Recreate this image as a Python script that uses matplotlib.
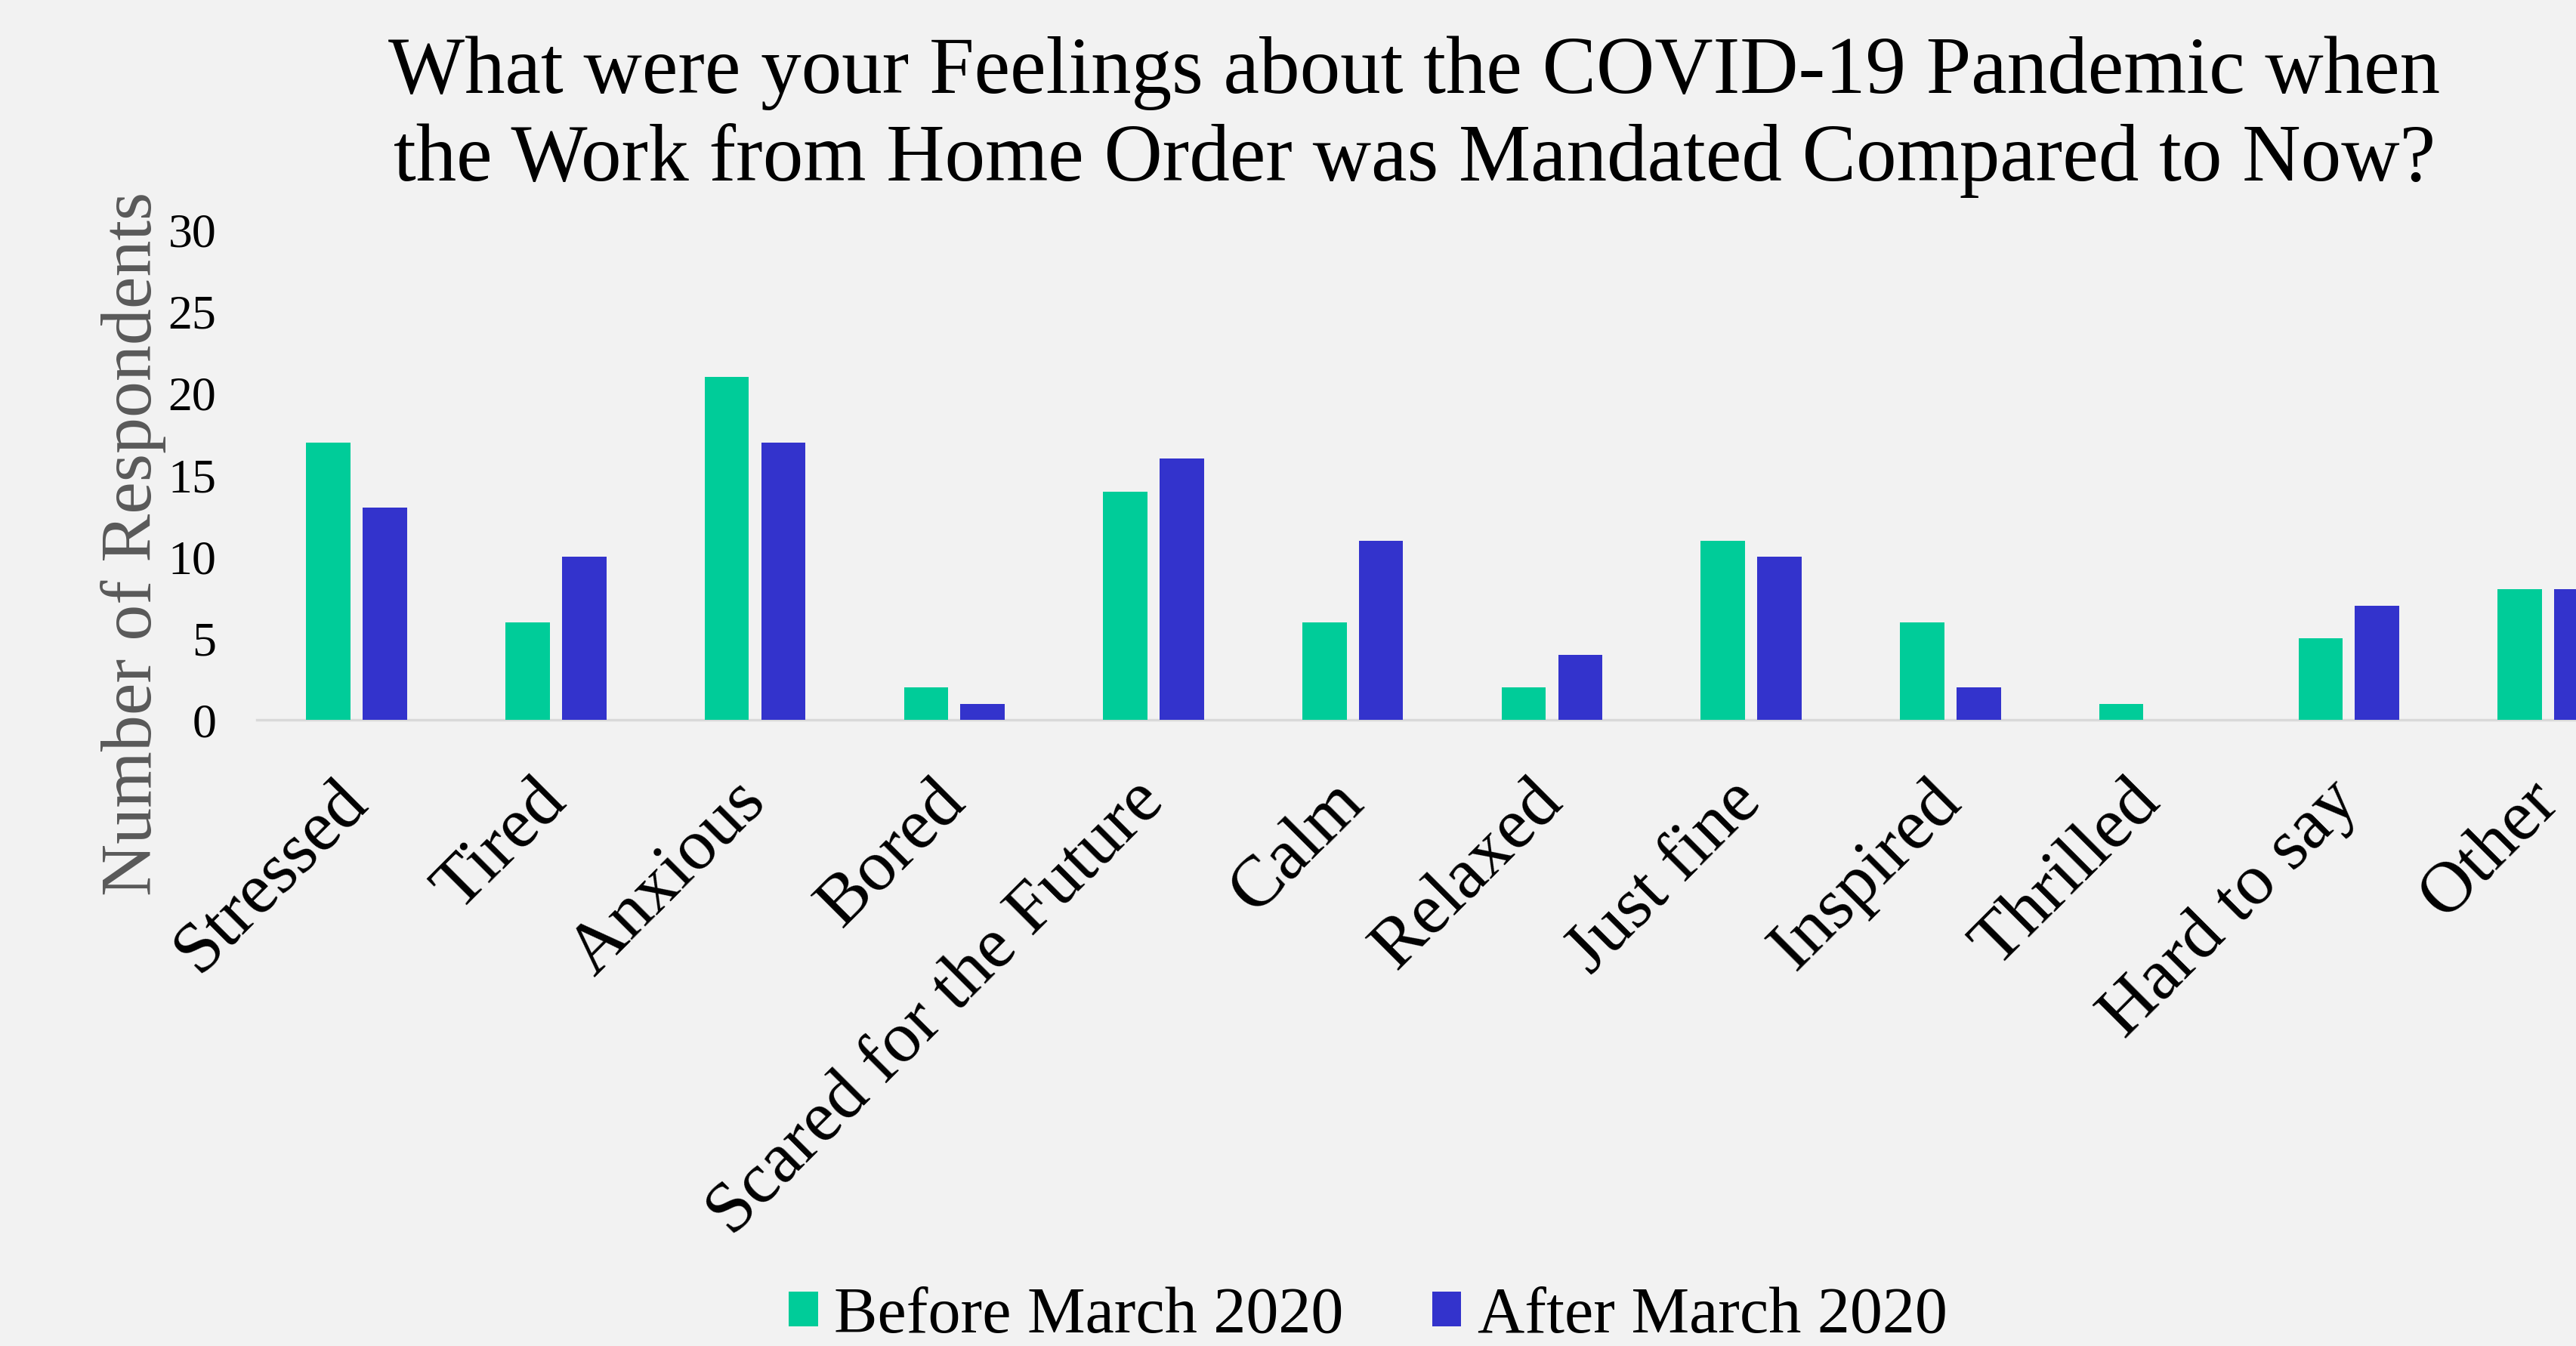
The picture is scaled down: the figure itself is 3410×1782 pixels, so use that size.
import numpy as np
import matplotlib.pyplot as plt

categories = ["Stressed", "Tired", "Anxious", "Bored", "Scared for the Future",
              "Calm", "Relaxed", "Just fine", "Inspired", "Thrilled",
              "Hard to say", "Other"]
before = [17, 6, 21, 2, 14, 6, 2, 11, 6, 1, 5, 8]
after = [13, 10, 17, 1, 16, 11, 4, 10, 2, 0, 7, 8]
series_names = ["Before March 2020", "After March 2020"]
yticks = [0, 5, 10, 15, 20, 25, 30]

plt.rcParams['font.family'] = ['Liberation Serif', 'DejaVu Serif']

bg = '#F2F2F2'
fig = plt.figure(figsize=(34.1, 17.82), dpi=100, facecolor=bg)
# the plot area runs past the right edge of the figure, as in the original
ax = fig.add_axes([0.0998, 0.465, 0.928, 0.364], facecolor=bg)

x = np.arange(len(categories))
w = 0.222
off = 0.142
ax.bar(x - off, before, w, color='#00CC99', label=series_names[0], zorder=3)
ax.bar(x + off, after, w, color='#3333CC', label=series_names[1], zorder=3)

ax.set_xlim(-0.5, len(categories) - 0.5)
ax.set_ylim(0, 30)
ax.set_yticks(yticks)
ax.set_yticklabels([str(v) for v in yticks], fontsize=46)
ax.set_xticks(x)
ax.set_xticklabels(categories, rotation=45, ha='right', va='center',
                   rotation_mode='anchor', fontsize=69)
ax.tick_params(axis='x', length=0, pad=68)
ax.tick_params(axis='y', length=0, pad=39)

for s in ['top', 'right', 'left']:
    ax.spines[s].set_visible(False)
ax.spines['bottom'].set_color('#D9D9D9')
ax.spines['bottom'].set_linewidth(2.5)

ax.set_ylabel("Number of Respondents", fontsize=69, color='#595959')
ax.yaxis.set_label_coords(-0.038, 0.36)

fig.text(0.549, 0.913, "What were your Feelings about the COVID-19 Pandemic when\n"
         "the Work from Home Order was Mandated Compared to Now?",
         ha='center', va='center', fontsize=77, linespacing=1.22)

fig.legend(loc='center', bbox_to_anchor=(0.531, 0.022), ncol=2, frameon=False,
           fontsize=62, handlelength=0.45, handleheight=0.45,
           handletextpad=0.25, columnspacing=1.36)

fig.savefig('out.png', dpi=100, facecolor=bg)
